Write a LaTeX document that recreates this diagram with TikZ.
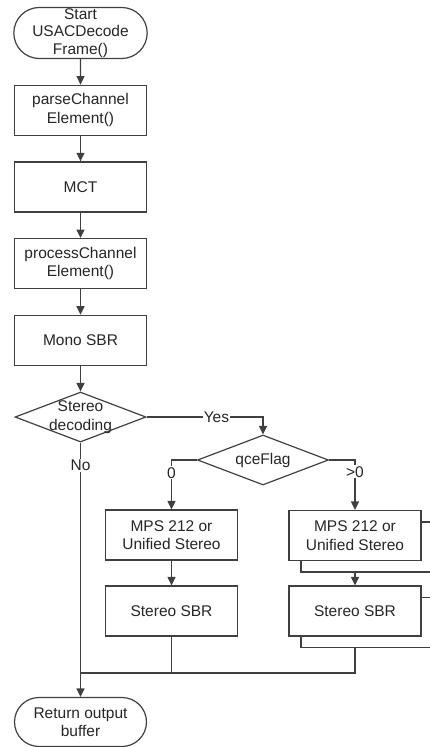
\documentclass[tikz,border=0pt]{standalone}
\usepackage{fontspec}
\setmainfont{Liberation Sans}
\usetikzlibrary{positioning,shapes.geometric,shapes.misc,arrows.meta}

\begin{document}
\begin{tikzpicture}[
    x=1pt, y=-1pt,
    node distance=25.5pt,
    every node/.style={
    font=\fontsize{15.5}{18.5}\selectfont, align=center, text=black!85},
    line/.style={draw=black!75, line width=1.2pt},
    arr/.style={line, -{Triangle[width=8pt,length=8.5pt]}},
    box/.style={line, rectangle, fill=white, minimum width=132pt, minimum height=50pt, inner sep=0pt},
    term/.style={line, rounded rectangle, minimum width=132pt, minimum height=49pt, inner xsep=0pt, inner ysep=1pt},
    decision/.style={line, diamond, aspect=2.6, minimum width=131pt, minimum height=50pt, inner sep=0pt},
    lbl/.style={fill=white, inner sep=1pt}]
    \def\stacked#1#2#3{
        \node[box, xshift=12pt, yshift=-11.5pt] (#1b) at (#2) {};
        \node[box] (#1) at (#2) {#3};}

    \clip (0,0) rectangle (430,747);

    \node[term, font=\fontsize{15.5}{17.5}\selectfont] (start) at (80.5,33) {Start\\USACDecode\\Frame()};
    \node[box, below=of start] (parse) {parseChannel\\Element()};
    \node[box, below=of parse] (mct) {MCT};
    \node[box, below=of mct] (proc) {processChannel\\Element()};
    \node[box, below=of proc] (mono) {Mono SBR};
    \node[decision, below=of mono, label=center:{Stereo\\decoding}] (stereo) {};

    \node[decision] (qce) at (263,460) {qceFlag};
    \node[box] (mpsL) at (171.5,535) {MPS 212 or\\Unified Stereo};
    \node[box] (sbrL) at (171.5,611) {Stereo SBR};
    \stacked{mpsR}{355,535.5}{MPS 212 or\\Unified Stereo}
    \stacked{sbrR}{355,611}{Stereo SBR}

    \node[term] (ret) at (80.5,722) {Return output\\buffer};
    \path (stereo.south |- 0,673) coordinate (join);

    \foreach \a/\b in {start/parse, parse/mct, mct/proc, proc/mono, mono/stereo}
        \draw[arr] (\a) -- (\b);
    \draw[arr] (stereo.east) -| node[lbl, pos=0.3] {Yes} (qce.north);
    \draw[arr] (stereo.south) -- node[lbl, pos=0.09] {No} (ret.north);
    \draw[arr] (qce.west) -| node[lbl, pos=0.63] {0} (mpsL.north);
    \draw[arr] (qce.east) -| node[lbl, pos=0.62] {>0} (mpsR.north);
    \draw[arr] (mpsL) -- (sbrL);
    \draw[arr] (mpsR.south |- mpsRb.south) -- (sbrR.north);
    \draw[line] (sbrL.south) -- (sbrL.south |- join);
    \draw[line] (sbrR.south |- sbrRb.south) |- (join);
\end{tikzpicture}
\end{document}
